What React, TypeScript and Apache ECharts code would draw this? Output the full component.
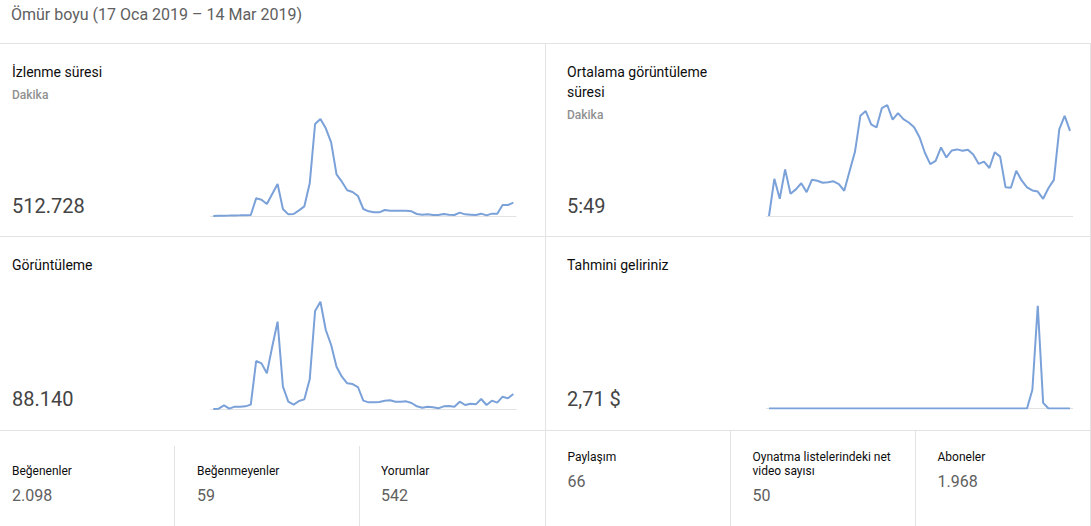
import React, { useEffect, useRef } from "react";
import * as echarts from "echarts";

// ---------- data ----------
const monthNames = ["Oca", "Şub", "Mar"];
const monthSpans = [
  { m: 0, from: 17, to: 31 },
  { m: 1, from: 1, to: 28 },
  { m: 2, from: 1, to: 14 },
];
const dayLabels: string[] = [];
monthSpans.forEach((s) => {
  for (let d = s.from; d <= s.to; d++) dayLabels.push(`${d} ${monthNames[s.m]} 2019`);
});

const watchMinutes = [
  0, 220, 235, 260, 410, 450, 520, 700, 11710, 10830, 7960, 14590, 21220, 4640, 1100, 1330, 3760,
  6410, 21660, 61000, 64310, 58120, 48840, 27630, 22760, 17020, 15910, 13260, 4640, 3090, 2430,
  2430, 3980, 3540, 3540, 3540, 3540, 3090, 1330, 880, 1100, 660, 660, 1330, 880, 660, 2210, 1100,
  880, 660, 1550, 440, 1550, 1550, 7290, 7290, 8840,
];

const avgDurationSec = [
  0, 134, 62, 168, 80, 96, 118, 86, 131, 127, 120, 122, 125, 115, 91, 162, 232, 361, 378, 330, 319,
  389, 400, 347, 371, 349, 337, 320, 284, 228, 187, 199, 247, 211, 236, 240, 235, 239, 222, 188, 196,
  173, 230, 214, 104, 102, 163, 128, 103, 92, 88, 62, 101, 130, 312, 361, 307,
];

const views = [
  0, 28, 308, 28, 196, 196, 224, 364, 4032, 3836, 2996, 5236, 7336, 1876, 616, 364, 672, 812, 2492,
  8232, 9016, 6636, 5376, 3556, 2716, 2156, 2100, 1848, 700, 560, 560, 588, 700, 728, 616, 616, 644,
  504, 224, 112, 196, 140, 56, 224, 252, 196, 616, 336, 448, 392, 840, 336, 700, 532, 1036, 896, 1260,
];

const revenue = [
  0, 0, 0, 0, 0, 0, 0, 0, 0, 0, 0, 0, 0, 0, 0, 0, 0, 0, 0, 0, 0, 0, 0, 0, 0, 0, 0, 0, 0, 0, 0, 0, 0,
  0, 0, 0, 0, 0, 0, 0, 0, 0, 0, 0, 0, 0, 0, 0, 0, 0.4, 2.19, 0.12, 0, 0, 0, 0, 0,
];

const headerTitle = "Ömür boyu (17 Oca 2019 – 14 Mar 2019)";
const cardTitles = [["İzlenme süresi"], ["Ortalama görüntüleme", "süresi"], ["Görüntüleme"], ["Tahmini geliriniz"]];
const cardUnits = ["Dakika", "Dakika", "", ""];
const cardTotals = ["512.728", "5:49", "88.140", "2,71 $"];
const seriesList = [watchMinutes, avgDurationSec, views, revenue];

const statLabels = [
  ["Beğenenler"],
  ["Beğenmeyenler"],
  ["Yorumlar"],
  ["Paylaşım"],
  ["Oynatma listelerindeki net", "video sayısı"],
  ["Aboneler"],
];
const statValues = ["2.098", "59", "542", "66", "50", "1.968"];

// ---------- layout ----------
const W = 1091;
const H = 526;
const FONT = "Roboto, 'Noto Sans', sans-serif";
const LINE_BLUE = "#7ba1d9";
const DIVIDER = "#e3e3e3";

const cellPos = [
  { x: 12, top: 43 },
  { x: 567, top: 43 },
  { x: 12, top: 236 },
  { x: 567, top: 236 },
];
const gridPos = [
  { left: 210.6, top: 119, width: 305.4, height: 97 },
  { left: 766.3, top: 105, width: 306.4, height: 111 },
  { left: 210.6, top: 301.7, width: 305.4, height: 107.3 },
  { left: 766.3, top: 305.7, width: 306.4, height: 102.8 },
];
const statPos = [
  { x: 12, labelBase: 475, valueBase: 501 },
  { x: 197, labelBase: 475, valueBase: 501 },
  { x: 381, labelBase: 475, valueBase: 501 },
  { x: 567.5, labelBase: 461.5, valueBase: 487 },
  { x: 752.5, labelBase: 461.5, valueBase: 501 },
  { x: 937.5, labelBase: 461.5, valueBase: 487 },
];

function txt(text: string, x: number, baseline: number, size: number, color: string, weight: number | string = 400) {
  return {
    type: "text",
    x,
    y: baseline - 0.342 * size,
    silent: true,
    style: {
      text,
      fill: color,
      fontSize: size,
      fontFamily: FONT,
      fontWeight: weight,
      align: "left",
      verticalAlign: "middle",
    },
  };
}

function hline(x1: number, x2: number, y: number) {
  return { type: "line", silent: true, shape: { x1, y1: y, x2, y2: y }, style: { stroke: DIVIDER, lineWidth: 1 } };
}
function vline(x: number, y1: number, y2: number) {
  return { type: "line", silent: true, shape: { x1: x, y1, x2: x, y2 }, style: { stroke: DIVIDER, lineWidth: 1 } };
}

export default function App() {
  const ref = useRef<HTMLDivElement>(null);

  useEffect(() => {
    document.body.style.margin = "0";
    document.body.style.overflow = "hidden";
    if (!ref.current) return;
    const chart = echarts.init(ref.current, undefined, { renderer: "svg", width: W, height: H });

    const graphics: any[] = [];
    graphics.push(txt(headerTitle, 11, 20, 16, "#606060"));
    graphics.push(hline(0, W, 43.5));
    graphics.push(hline(0, W, 236.5));
    graphics.push(hline(0, W, 430.5));
    graphics.push(vline(545.5, 43, H));
    graphics.push(vline(1090.5, 43, H));
    graphics.push(vline(174.5, 446, H));
    graphics.push(vline(359.5, 446, H));
    graphics.push(vline(730.5, 430, H));
    graphics.push(vline(915.5, 430, H));

    cardTitles.forEach((lines, i) => {
      const c = cellPos[i];
      lines.forEach((ln, j) => graphics.push(txt(ln, c.x, c.top + 34 + j * 20, 14, "#0d0d0d", 400)));
      if (cardUnits[i]) {
        graphics.push(txt(cardUnits[i], c.x, c.top + 56 + (lines.length - 1) * 20, 12, "#909090", 500));
      }
      graphics.push(txt(cardTotals[i], c.x, c.top + 170, 20, "#444444", 400));
    });

    statLabels.forEach((lines, i) => {
      const s = statPos[i];
      lines.forEach((ln, j) => graphics.push(txt(ln, s.x, s.labelBase + j * 14, 12, "#0d0d0d", 400)));
      graphics.push(txt(statValues[i], s.x, s.valueBase, 16, "#606060", 400));
    });

    chart.setOption({
      animation: false,
      grid: gridPos.map((g) => ({ ...g, containLabel: false })),
      xAxis: gridPos.map((_, i) => ({
        type: "category",
        gridIndex: i,
        data: dayLabels,
        boundaryGap: true,
        axisLine: { show: true, lineStyle: { color: DIVIDER, width: 1 } },
        axisTick: { show: false },
        axisLabel: { show: false },
        splitLine: { show: false },
      })),
      yAxis: gridPos.map((_, i) => ({
        type: "value",
        gridIndex: i,
        min: 0,
        max: "dataMax",
        show: false,
        splitLine: { show: false },
      })),
      series: seriesList.map((data, i) => ({
        type: "line",
        xAxisIndex: i,
        yAxisIndex: i,
        data,
        symbol: "none",
        silent: true,
        lineStyle: { color: LINE_BLUE, width: 2 },
        z: 3,
      })),
      graphic: graphics,
    });

    return () => chart.dispose();
  }, []);

  return <div ref={ref} style={{ width: W, height: H, background: "#fff" }} />;
}
